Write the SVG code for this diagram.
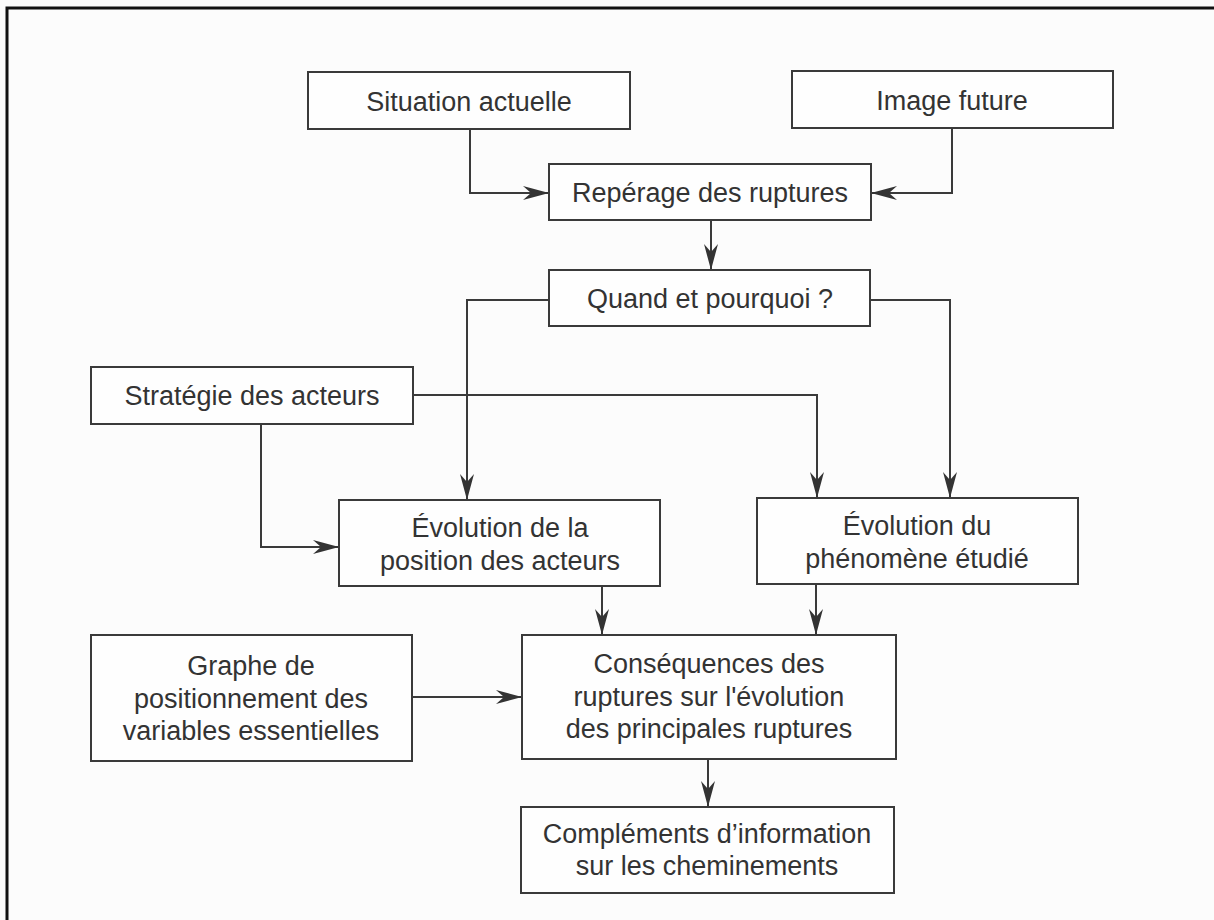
<svg xmlns="http://www.w3.org/2000/svg" width="1214" height="920" viewBox="0 0 1214 920">
  <defs>
    <marker id="arrow" viewBox="0 0 26 14" refX="26" refY="7" markerWidth="26" markerHeight="14" markerUnits="userSpaceOnUse" orient="auto">
      <path d="M0,0 L26,7 L0,14 L8,7 Z" fill="#333"/>
    </marker>
    <style>
      .box { fill: #fefefe; stroke: #3a3a3a; stroke-width: 2; }
      .lbl { font-family: "Liberation Sans", Arial, sans-serif; font-size: 27px; fill: #333; text-anchor: middle; }
      .edge { fill: none; stroke: #3a3a3a; stroke-width: 2; marker-end: url(#arrow); }
    </style>
  </defs>

  <!-- page -->
  <rect x="0" y="0" width="1214" height="920" fill="#fcfcfc"/>
  <path d="M7,920 V8 H1214" fill="none" stroke="#111" stroke-width="3"/>

  <!-- connectors -->
  <g id="connectors">
    <path class="edge" d="M470,129 V193 H549"/>
    <path class="edge" d="M952,128 V193 H871"/>
    <path class="edge" d="M711,220 V270"/>
    <path class="edge" d="M549,300 H467 V500"/>
    <path class="edge" d="M870,300 H950 V498"/>
    <path class="edge" d="M413,395 H817 V498"/>
    <path class="edge" d="M261,424 V547 H339"/>
    <path class="edge" d="M602,586 V635"/>
    <path class="edge" d="M816,584 V635"/>
    <path class="edge" d="M412,697 H522"/>
    <path class="edge" d="M708,759 V807"/>
  </g>

  <g id="situation-actuelle">
    <rect class="box" x="308" y="72" width="322" height="57"/>
    <text class="lbl" x="469" y="111">Situation actuelle</text>
  </g>

  <g id="image-future">
    <rect class="box" x="792" y="71" width="321" height="57"/>
    <text class="lbl" x="952" y="110">Image future</text>
  </g>

  <g id="reperage">
    <rect class="box" x="549" y="164" width="322" height="56"/>
    <text class="lbl" x="710" y="202">Repérage des ruptures</text>
  </g>

  <g id="quand-pourquoi">
    <rect class="box" x="549" y="270" width="321" height="56"/>
    <text class="lbl" x="710" y="308">Quand et pourquoi ?</text>
  </g>

  <g id="strategie">
    <rect class="box" x="91" y="367" width="322" height="57"/>
    <text class="lbl" x="252" y="405">Stratégie des acteurs</text>
  </g>

  <g id="evolution-position">
    <rect class="box" x="339" y="500" width="321" height="86"/>
    <text class="lbl" x="500" y="537">Évolution de la</text>
    <text class="lbl" x="500" y="570">position des acteurs</text>
  </g>

  <g id="evolution-phenomene">
    <rect class="box" x="757" y="498" width="321" height="86"/>
    <text class="lbl" x="917" y="535">Évolution du</text>
    <text class="lbl" x="917" y="568">phénomène étudié</text>
  </g>

  <g id="graphe">
    <rect class="box" x="91" y="635" width="321" height="126"/>
    <text class="lbl" x="251" y="675">Graphe de</text>
    <text class="lbl" x="251" y="708">positionnement des</text>
    <text class="lbl" x="251" y="740">variables essentielles</text>
  </g>

  <g id="consequences">
    <rect class="box" x="522" y="635" width="374" height="124"/>
    <text class="lbl" x="709" y="673">Conséquences des</text>
    <text class="lbl" x="709" y="706">ruptures sur l'évolution</text>
    <text class="lbl" x="709" y="738">des principales ruptures</text>
  </g>

  <g id="complements">
    <rect class="box" x="521" y="807" width="373" height="86"/>
    <text class="lbl" x="707" y="843">Compléments d’information</text>
    <text class="lbl" x="707" y="875">sur les cheminements</text>
  </g>
</svg>
